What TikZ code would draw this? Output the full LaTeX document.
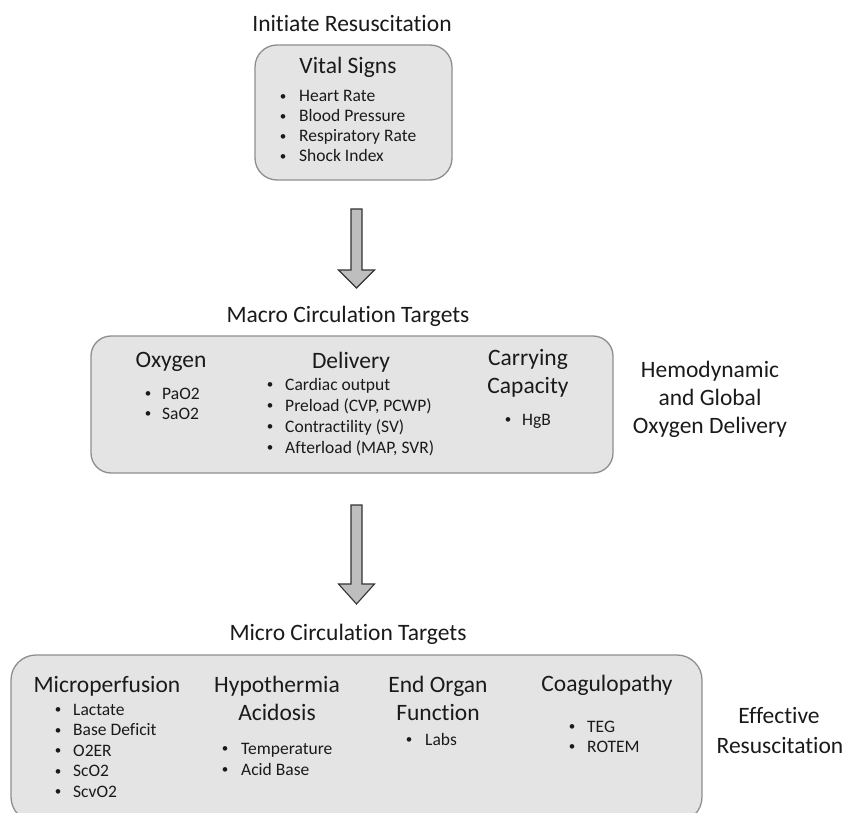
\documentclass[tikz,border=0pt]{standalone}
\usepackage{fontspec}
\setmainfont{Carlito}[Ligatures={NoCommon}]
\usetikzlibrary{calc}
\definecolor{boxfill}{HTML}{E4E4E4}
\definecolor{boxline}{HTML}{8E8E8E}
\definecolor{arrfill}{HTML}{BEBEBE}
\definecolor{arrline}{HTML}{333333}
\definecolor{txt}{HTML}{1A1A1A}
\newcommand{\smallbul}{\raisebox{1.2pt}{\fontsize{13}{13}\selectfont\textbullet}}
\tikzset{
  hdr/.style={font=\fontsize{23.5}{28}\selectfont, anchor=base, inner sep=0pt, text=txt},
  itm/.style={font=\fontsize{17.5}{21}\selectfont, anchor=base west, inner sep=0pt, text=txt},
  bul/.style={font=\fontsize{17.5}{21}\selectfont, anchor=base, inner sep=0pt, text=txt},
  panel/.style={draw=boxline, fill=boxfill, line width=1.3pt},
  barrow/.style={draw=arrline, fill=arrfill, line width=1.1pt, line join=miter},
}
% #1 start coordinate (top centre), #2 tip coordinate, #3 head height
\newcommand{\blockarr}[3]{%
  \draw[barrow] ($(#1)+(-5.5,0)$) -- ($(#1)+(5.5,0)$) -- ($(#2)+(5.5,-#3)$)
    -- ($(#2)+(18,-#3)$) -- (#2) -- ($(#2)+(-18,-#3)$) -- ($(#2)+(-5.5,-#3)$) -- cycle;}
\begin{document}
\begin{tikzpicture}[x=1pt,y=-1pt]
\useasboundingbox (0,0) rectangle (846,813);
\clip (0,0) rectangle (846,813);

% ---------- top ----------
\node[hdr] (t1) at (352,32) {Initiate Resuscitation};
\draw[panel, rounded corners=22pt] (255,45) rectangle (452,180);
\node[hdr] (vs) at (348,74) {Vital Signs};
\foreach \t [count=\i] in {Heart Rate, Blood Pressure, Respiratory Rate, Shock Index}{
  \node[bul] (vsb\i) at (283,{101.7+20*(\i-1)}) {\smallbul};
  \node[itm] (vsi\i) at (299,{101.7+20*(\i-1)}) {\t};
}

% arrow 1
\coordinate (a1s) at (356.5,209);
\coordinate (a1e) at (356.5,288);
\blockarr{a1s}{a1e}{18}

% ---------- middle ----------
\node[hdr] (t2) at (348,322) {Macro Circulation Targets};
\draw[panel, rounded corners=20pt] (91,336) rectangle (613,473);
\node[hdr] (ox) at (171,367) {Oxygen};
\foreach \t [count=\i] in {PaO2, SaO2}{
  \node[bul] (oxb\i) at (148,{399+20*(\i-1)}) {\smallbul};
  \node[itm] (oxi\i) at (162,{399+20*(\i-1)}) {\t};
}
\node[hdr] (dl) at (351,368) {Delivery};
\foreach \t [count=\i] in {Cardiac output, {Preload (CVP, PCWP)}, Contractility (SV), {Afterload (MAP, SVR)}}{
  \node[bul] (dlb\i) at (270,{390+21*(\i-1)}) {\smallbul};
  \node[itm] (dli\i) at (285,{390+21*(\i-1)}) {\t};
}
\node[hdr] (cc1) at (528,365) {Carrying};
\node[hdr] (cc2) at (528,393) {Capacity};
\node[bul] (ccb1) at (508,425) {\smallbul};
\node[itm] (cci1) at (522,425) {HgB};
\node[hdr] (hg1) at (710,377) {Hemodynamic};
\node[hdr] (hg2) at (710,405) {and Global};
\node[hdr] (hg3) at (710,433) {Oxygen Delivery};

% arrow 2
\coordinate (a2s) at (356.5,505);
\coordinate (a2e) at (356.5,604);
\blockarr{a2s}{a2e}{20}

% ---------- bottom ----------
\node[hdr] (t3) at (348,640) {Micro Circulation Targets};
\draw[panel, rounded corners=25pt] (11,655) rectangle (702,822);
\node[hdr] (mp) at (107,692) {Microperfusion};
\foreach \t [count=\i] in {Lactate, Base Deficit, O2ER, ScO2, ScvO2}{
  \node[bul] (mpb\i) at (58,{715+20.5*(\i-1)}) {\smallbul};
  \node[itm] (mpi\i) at (73,{715+20.5*(\i-1)}) {\t};
}
\node[hdr] (hy1) at (277,692) {Hypothermia};
\node[hdr] (hy2) at (277,720) {Acidosis};
\foreach \t [count=\i] in {Temperature, Acid Base}{
  \node[bul] (hyb\i) at (225,{754+21*(\i-1)}) {\smallbul};
  \node[itm] (hyi\i) at (241,{754+21*(\i-1)}) {\t};
}
\node[hdr] (eo1) at (438,692) {End Organ};
\node[hdr] (eo2) at (438,720) {Function};
\node[bul] (eob1) at (409,745) {\smallbul};
\node[itm] (eoi1) at (425,745) {Labs};
\node[hdr] (co) at (607,691) {Coagulopathy};
\foreach \t [count=\i] in {TEG, ROTEM}{
  \node[bul] (cob\i) at (572,{732+20*(\i-1)}) {\smallbul};
  \node[itm] (coi\i) at (587,{732+20*(\i-1)}) {\t};
}
\node[hdr] (er1) at (779,723) {Effective};
\node[hdr] (er2) at (780,753) {Resuscitation};
\end{tikzpicture}
\end{document}
